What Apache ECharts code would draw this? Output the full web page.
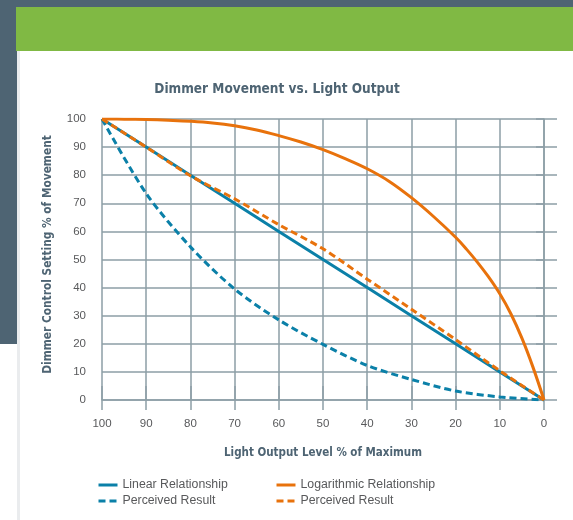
<!DOCTYPE html>
<html>
<head>
<meta charset="utf-8">
<script src="https://cdn.jsdelivr.net/npm/echarts@6/dist/echarts.min.js"></script>
<style>
    html, body { margin: 0; padding: 0; background: #fff; }
    #chart { width: 573px; height: 520px; }
</style>
</head>
<body>
<div id="chart"></div>
<script>
    // values (light output % -> dimmer setting %)
    var xTicks = [100, 90, 80, 70, 60, 50, 40, 30, 20, 10, 0];
    var linearY = [100, 90, 80, 70, 60, 50, 40, 30, 20, 10, 0];
    var linearPerceivedY = [100, 73.5, 54.5, 39.5, 28.5, 19.8, 12.3, 7.3, 3.2, 1.1, 0];
    var logX = [100, 95, 90, 85, 80, 75, 70, 65, 60, 55, 50, 45, 40, 35, 30, 25, 20, 17.5, 15, 12.5, 10, 7.5, 5, 2.5, 0];
    var logY = [100, 99.95, 99.8, 99.55, 99.2, 98.6, 97.6, 96.1, 94.1, 91.8, 89.1, 85.9, 82.3, 77.8, 72, 65.3, 57.9, 53.6, 48.9, 43.7, 37.8, 30.7, 22, 11.7, 0];
    var logPerceivedY = [100, 90, 79.8, 71.6, 62.4, 53.8, 43, 32.3, 21.5, 10.4, 0];

    var seriesNames = ['Linear Relationship', 'Perceived Result (linear)',
        'Logarithmic Relationship', 'Perceived Result (log)'];

    var blue = '#0b80a8';
    var orange = '#e8720c';
    var slate = '#4e6473';
    var gridColor = '#8d9ea6';
    var labelColor = '#58595b';
    var narrowFont = '"Liberation Sans Narrow", "DejaVu Sans Condensed", sans-serif';
    var plainFont = '"Liberation Sans", Arial, sans-serif';

    function pairs(xs, ys) {
        var out = [];
        for (var i = 0; i < xs.length; i++) {
            out.push([xs[i], ys[i]]);
        }
        return out;
    }

    function lineSeries(name, xs, ys, color, dashed, smooth) {
        return {
            name: name,
            type: 'line',
            data: pairs(xs, ys),
            symbol: 'none',
            smooth: smooth,
            xAxisIndex: 0,
            yAxisIndex: 0,
            itemStyle: { color: color },
            lineStyle: {
                color: color,
                width: 3,
                type: dashed ? [7, 4] : 'solid'
            }
        };
    }

    function stripSuffix(name) {
        return name.replace(/ \(.*\)$/, '');
    }

    function legendBlock(names, left) {
        return {
            data: names,
            orient: 'vertical',
            left: left,
            top: 474,
            itemWidth: 19,
            itemHeight: 8,
            itemGap: 4,
            formatter: stripSuffix,
            // hide the marker circle, keep only the line sample
            itemStyle: { opacity: 0 },
            lineStyle: { width: 3 },
            textStyle: { color: labelColor, fontSize: 12.3, fontFamily: plainFont }
        };
    }

    var option = {
        backgroundColor: '#fff',
        animation: false,
        graphic: [
            { type: 'rect', shape: { x: 0, y: 0, width: 573, height: 7 }, style: { fill: slate } },
            { type: 'rect', shape: { x: 0, y: 0, width: 17, height: 344 }, style: { fill: slate } },
            { type: 'rect', shape: { x: 16, y: 7, width: 557, height: 44 }, style: { fill: '#80b944' } },
            { type: 'rect', shape: { x: 17, y: 51, width: 3, height: 469 }, style: { fill: '#eaecee' } }
        ],
        title: {
            text: 'Dimmer Movement vs. Light Output',
            left: 272,
            top: 77,
            textAlign: 'center',
            textStyle: { color: slate, fontSize: 13.5, fontWeight: 'bold', fontFamily: narrowFont }
        },
        legend: [
            legendBlock([seriesNames[0], seriesNames[1]], 92),
            legendBlock([seriesNames[2], seriesNames[3]], 270)
        ],
        grid: { left: 102, right: 29, top: 119, bottom: 120 },
        xAxis: [
            {
                type: 'value',
                inverse: true,
                min: 0,
                max: 100,
                interval: 10,
                name: 'Light Output Level % of Maximum',
                nameLocation: 'middle',
                nameGap: 47,
                nameTextStyle: { color: slate, fontSize: 11.5, fontWeight: 'bold', fontFamily: narrowFont },
                axisLine: { lineStyle: { color: gridColor, width: 1.5 } },
                axisTick: { length: 10, lineStyle: { color: gridColor, width: 1.5 } },
                axisLabel: { margin: 18, color: labelColor, fontSize: 11.5, fontFamily: plainFont },
                splitLine: { lineStyle: { color: gridColor, width: 1.5 } }
            },
            {
                // top extension of the vertical grid lines
                type: 'value',
                position: 'top',
                inverse: true,
                min: 0,
                max: 100,
                interval: 10,
                axisLine: { show: false },
                axisTick: { length: 14, lineStyle: { color: gridColor, width: 1.5 } },
                axisLabel: { show: false },
                splitLine: { show: false }
            }
        ],
        yAxis: [
            {
                type: 'value',
                min: 0,
                max: 100,
                interval: 10,
                name: 'Dimmer Control Setting % of Movement',
                nameLocation: 'middle',
                nameGap: 48,
                nameTextStyle: {
                    color: slate, fontSize: 11.8, fontWeight: 'bold', fontFamily: narrowFont,
                    padding: [0, 0, 0, 10]
                },
                axisLine: { show: true, lineStyle: { color: gridColor, width: 1.5 } },
                axisTick: { show: true, length: 8, lineStyle: { color: gridColor, width: 1.5 } },
                axisLabel: { margin: 16, color: labelColor, fontSize: 11.5, fontFamily: plainFont },
                splitLine: { lineStyle: { color: gridColor, width: 1.5 } }
            },
            {
                // right extension of the horizontal grid lines
                type: 'value',
                position: 'right',
                min: 0,
                max: 100,
                interval: 10,
                axisLine: { show: false },
                axisTick: { show: true, length: 13, lineStyle: { color: gridColor, width: 1.5 } },
                axisLabel: { show: false },
                splitLine: { show: false }
            }
        ],
        series: [
            lineSeries(seriesNames[0], xTicks, linearY, blue, false, false),
            lineSeries(seriesNames[1], xTicks, linearPerceivedY, blue, true, 0.3),
            lineSeries(seriesNames[2], logX, logY, orange, false, 0.4),
            lineSeries(seriesNames[3], xTicks, logPerceivedY, orange, true, 0.3)
        ]
    };

    var myChart = echarts.init(document.getElementById('chart'));
    myChart.setOption(option);
</script>
</body>
</html>
